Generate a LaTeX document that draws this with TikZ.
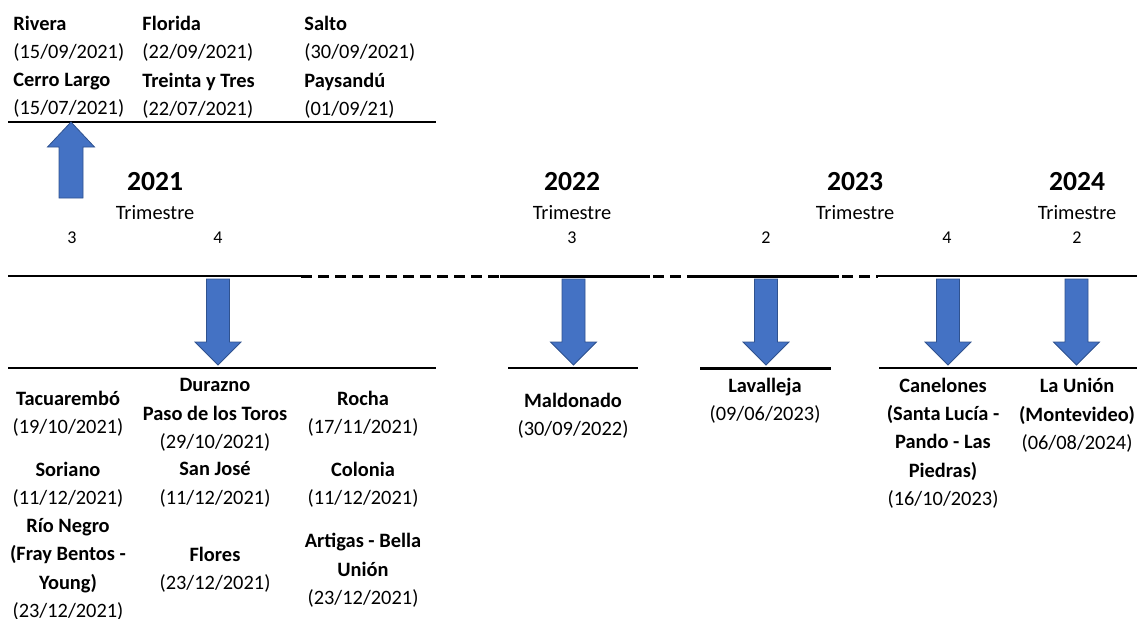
\documentclass[tikz,border=0pt]{standalone}
\usepackage{fontspec}
\setmainfont{Carlito}
\usetikzlibrary{positioning}
\definecolor{flechaazul}{HTML}{4472C4}
\definecolor{flechaborde}{HTML}{2F528F}
\newcommand{\flechaabajo}[1]{%
  \draw[flecha] (#1-11.5,279) -- (#1+11.5,279) -- (#1+11.5,342) -- (#1+23,342)
    -- (#1,365) -- (#1-23,342) -- (#1-11.5,342) -- cycle;}
\begin{document}
\begin{tikzpicture}[x=0.5pt, y=-0.5pt,
      lugar/.style={font=\fontsize{10.2}{14.15}\selectfont, align=center, inner sep=0pt, yshift=-1pt},
      arriba/.style={lugar, align=left, anchor=west},
      anio/.style={font=\fontsize{13.8}{16}\selectfont\bfseries, inner sep=0pt},
      trim/.style={font=\fontsize{10.2}{12}\selectfont, inner sep=0pt},
      cuarto/.style={font=\fontsize{9}{10}\selectfont, inner sep=0pt},
      eje/.style={line width=1pt},
      ejegrueso/.style={line width=1.5pt},
      corte/.style={line width=1.5pt, dash pattern=on 5.5pt off 3pt},
      flecha/.style={fill=flechaazul, draw=flechaborde, line width=0.4pt}]
    \useasboundingbox (0,0) rectangle (1137,618);
    % julio - septiembre 2021
    \node[arriba] (rivera)   at (13,36.5)  {\textbf{Rivera}\\(15/09/2021)};
    \node[arriba] (florida)  at (142,36.5) {\textbf{Florida}\\(22/09/2021)};
    \node[arriba] (salto)    at (304,36.5) {\textbf{Salto}\\(30/09/2021)};
    \node[arriba] (cerro)    at (13,93.5)  {\textbf{Cerro Largo}\\(15/07/2021)};
    \node[arriba] (treinta)  at (142,93.5) {\textbf{Treinta y Tres}\\(22/07/2021)};
    \node[arriba] (paysandu) at (304,93.5) {\textbf{Paysandú}\\(01/09/21)};
    \draw[eje] (8,122) -- (436,122);
    \draw[flecha] (59,198) -- (83,198) -- (83,147) -- (94.5,147) -- (71,122)
      -- (47.5,147) -- (59,147) -- cycle;
    % anios y trimestres
    \node[anio] (a21) at (155,182)  {2021};
    \node[anio] (a22) at (572,182)  {2022};
    \node[anio] (a23) at (855,182)  {2023};
    \node[anio] (a24) at (1077,182) {2024};
    \node[trim] (t21) at (155,213)  {Trimestre};
    \node[trim] (t22) at (572,213)  {Trimestre};
    \node[trim] (t23) at (855,213)  {Trimestre};
    \node[trim] (t24) at (1077,213) {Trimestre};
    \node[cuarto] (q1) at (72,238)   {3};
    \node[cuarto] (q2) at (218,238)  {4};
    \node[cuarto] (q3) at (572,238)  {3};
    \node[cuarto] (q4) at (766,238)  {2};
    \node[cuarto] (q5) at (947,238)  {4};
    \node[cuarto] (q6) at (1077,238) {2};
    % linea de tiempo
    \draw[eje] (8,276) -- (301,276);
    \draw[corte] (301,276) -- (500,276);
    \draw[ejegrueso] (500,276) -- (650,276);
    \draw[corte] (653,276) -- (688,276);
    \draw[ejegrueso] (688,276) -- (839,276);
    \draw[corte] (842,276) -- (878,276);
    \draw[eje] (878,276) -- (1137,276);
    \flechaabajo{218}
    \flechaabajo{573.5}
    \flechaabajo{766}
    \flechaabajo{948}
    \flechaabajo{1076.5}
    \draw[eje] (8,368) -- (436,368);
    \draw[eje] (508,368) -- (638,368);
    \draw[ejegrueso] (700,368) -- (831,368);
    \draw[eje] (879,368) -- (1137,368);
    % octubre - diciembre 2021
    \node[lugar] (tacuarembo) at (68,411.5)  {\textbf{Tacuarembó}\\(19/10/2021)};
    \node[lugar] (durazno)    at (215,413)   {\textbf{Durazno}\\\textbf{Paso de los Toros}\\(29/10/2021)};
    \node[lugar] (rocha)      at (363,412)   {\textbf{Rocha}\\(17/11/2021)};
    \node[lugar] (soriano)    at (68,482.5)  {\textbf{Soriano}\\(11/12/2021)};
    \node[lugar] (sanjose)    at (215,482.5) {\textbf{San José}\\(11/12/2021)};
    \node[lugar] (colonia)    at (363,483)   {\textbf{Colonia}\\(11/12/2021)};
    \node[lugar] (rionegro)   at (68,567.5)  {\textbf{Río Negro}\\\textbf{(Fray Bentos -}\\\textbf{Young)}\\(23/12/2021)};
    \node[lugar] (flores)     at (215,568)   {\textbf{Flores}\\(23/12/2021)};
    \node[lugar] (artigas)    at (363,568.5) {\textbf{Artigas - Bella}\\\textbf{Unión}\\(23/12/2021)};
    % 2022 - 2024
    \node[lugar] (maldonado)  at (573,413.5) {\textbf{Maldonado}\\(30/09/2022)};
    \node[lugar] (lavalleja)  at (765,399)   {\textbf{Lavalleja}\\(09/06/2023)};
    \node[lugar] (canelones)  at (943,441)   {\textbf{Canelones}\\\textbf{(Santa Lucía -}\\\textbf{Pando - Las}\\\textbf{Piedras)}\\(16/10/2023)};
    \node[lugar] (launion)    at (1077,413.5) {\textbf{La Unión}\\\textbf{(Montevideo)}\\(06/08/2024)};
  \end{tikzpicture}
\end{document}
